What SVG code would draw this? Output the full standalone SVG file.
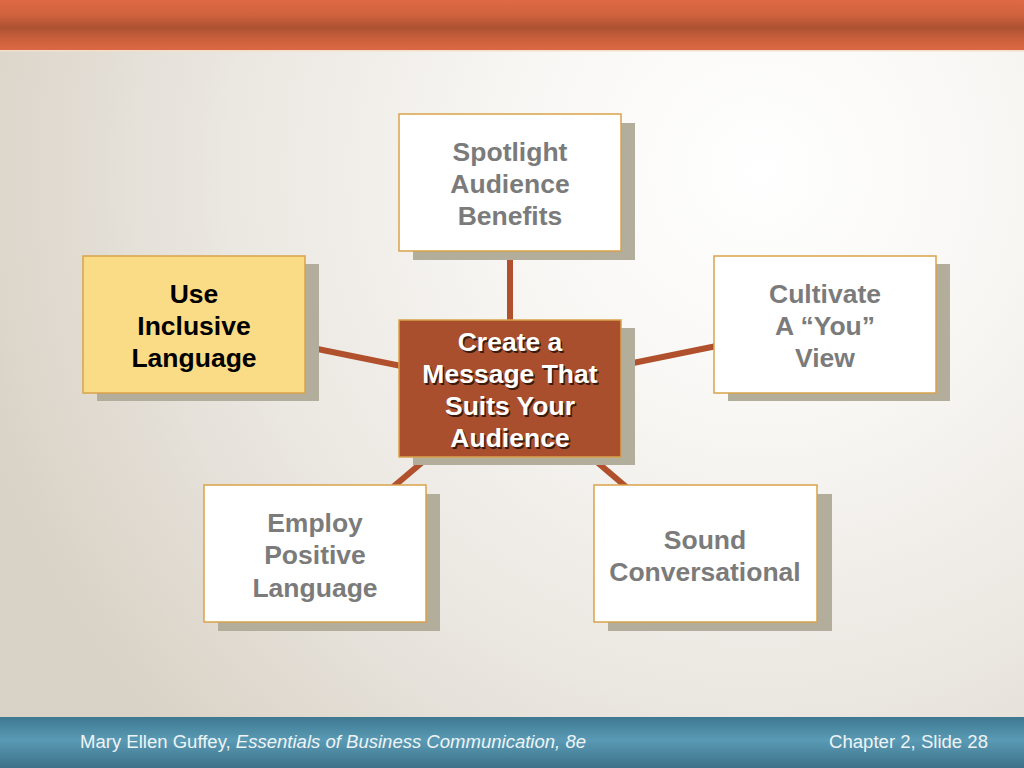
<svg xmlns="http://www.w3.org/2000/svg" width="1024" height="768" viewBox="0 0 1024 768">
<defs>
<radialGradient id="bg" gradientUnits="userSpaceOnUse" cx="760" cy="170" r="820" fx="760" fy="170">
<stop offset="0" stop-color="#ffffff"/>
<stop offset="0.3" stop-color="#f8f7f4"/>
<stop offset="0.65" stop-color="#ebe7e1"/>
<stop offset="1" stop-color="#d9d2c6"/>
</radialGradient>
<linearGradient id="top" x1="0" y1="0" x2="0" y2="1">
<stop offset="0" stop-color="#de6944"/>
<stop offset="0.3" stop-color="#d0623e"/>
<stop offset="0.55" stop-color="#ad5231"/>
<stop offset="0.8" stop-color="#cc603d"/>
<stop offset="1" stop-color="#dc6844"/>
</linearGradient>
<linearGradient id="foot" x1="0" y1="0" x2="0" y2="1">
<stop offset="0" stop-color="#3e7890"/>
<stop offset="0.45" stop-color="#5a9ab4"/>
<stop offset="1" stop-color="#3d7189"/>
</linearGradient>
<style>
.sh{fill:#b3ad9c}
.bx{fill:#ffffff;stroke:#d9a34a;stroke-width:1.5}
.yl{fill:#fbdc86;stroke:#d9a34a;stroke-width:1.5}
.ct{fill:#a94f2d;stroke:#d9a34a;stroke-width:1.5}
.t{font-family:"Liberation Sans",Arial,sans-serif;font-weight:bold;font-size:26.5px;text-anchor:middle}
.g{fill:#7b7b7b}
.k{fill:#000000}
.w{fill:#ffffff}
.d{fill:#3a1a0c}
.ln{stroke:#b0502d;stroke-width:6;fill:none}
.ft{font-family:"Liberation Sans",Arial,sans-serif;font-size:18px;fill:#eef4f6}
</style>
</defs>
<rect x="0" y="0" width="1024" height="768" fill="url(#bg)"/>
<rect x="0" y="0" width="1024" height="50" fill="url(#top)"/>
<rect x="0" y="50" width="1024" height="1.5" fill="#f3dfcc"/>
<rect x="0" y="717" width="1024" height="51" fill="url(#foot)"/>
<g id="connectors">
<line class="ln" x1="510" y1="388" x2="510" y2="182"/>
<line class="ln" x1="510" y1="388" x2="194" y2="324"/>
<line class="ln" x1="510" y1="388" x2="825" y2="324"/>
<line class="ln" x1="510" y1="388" x2="315" y2="553"/>
<line class="ln" x1="510" y1="388" x2="705" y2="554"/>
</g>
<g id="spotlight">
<rect class="sh" x="413" y="123" width="222" height="137"/>
<rect class="bx" x="399" y="114" width="222" height="137"/>
<text class="t g" x="510" y="161">Spotlight</text>
<text class="t g" x="510" y="193">Audience</text>
<text class="t g" x="510" y="225">Benefits</text>
</g>
<g id="inclusive">
<rect class="sh" x="97" y="264" width="222" height="137"/>
<rect class="yl" x="83" y="256" width="222" height="137"/>
<text class="t k" x="194" y="303">Use</text>
<text class="t k" x="194" y="335">Inclusive</text>
<text class="t k" x="194" y="367">Language</text>
</g>
<g id="cultivate">
<rect class="sh" x="728" y="264" width="222" height="137"/>
<rect class="bx" x="714" y="256" width="222" height="137"/>
<text class="t g" x="825" y="303">Cultivate</text>
<text class="t g" x="825" y="335">A “You”</text>
<text class="t g" x="825" y="367">View</text>
</g>
<g id="center">
<rect class="sh" x="413" y="328" width="222" height="137"/>
<rect class="ct" x="399" y="320" width="222" height="137"/>
<g transform="translate(1.5,1.5)">
<text class="t d" x="510" y="351">Create a</text>
<text class="t d" x="510" y="383">Message That</text>
<text class="t d" x="510" y="415">Suits Your</text>
<text class="t d" x="510" y="447">Audience</text>
</g>
<text class="t w" x="510" y="351">Create a</text>
<text class="t w" x="510" y="383">Message That</text>
<text class="t w" x="510" y="415">Suits Your</text>
<text class="t w" x="510" y="447">Audience</text>
</g>
<g id="employ">
<rect class="sh" x="218" y="494" width="222" height="137"/>
<rect class="bx" x="204" y="485" width="222" height="137"/>
<text class="t g" x="315" y="532">Employ</text>
<text class="t g" x="315" y="564">Positive</text>
<text class="t g" x="315" y="597">Language</text>
</g>
<g id="sound">
<rect class="sh" x="608" y="494" width="224" height="137"/>
<rect class="bx" x="594" y="485" width="223" height="137"/>
<text class="t g" x="705" y="549">Sound</text>
<text class="t g" x="705" y="581">Conversational</text>
</g>
<text class="ft" x="80" y="748" textLength="506" lengthAdjust="spacingAndGlyphs">Mary Ellen Guffey, <tspan font-style="italic">Essentials of Business Communication, 8e</tspan></text>
<text class="ft" x="829" y="748" textLength="159" lengthAdjust="spacingAndGlyphs">Chapter 2, Slide 28</text>
</svg>
